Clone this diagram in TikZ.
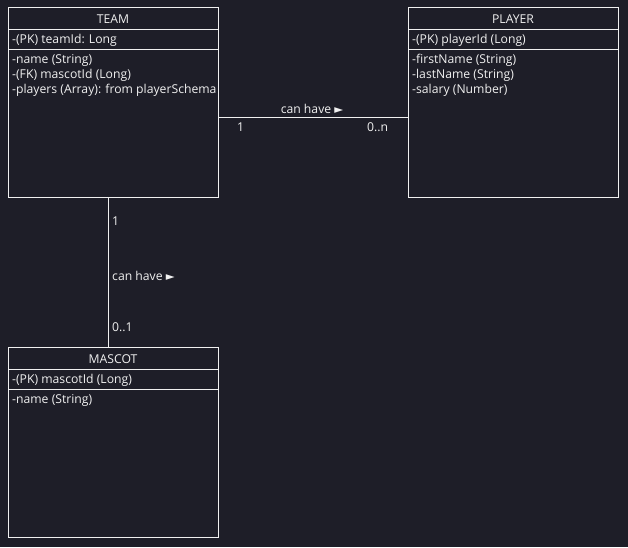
\documentclass[tikz,border=0pt]{standalone}
\usepackage{fontspec}
\setmainfont{Open Sans}
\newfontfamily\symfont{DejaVu Sans}
\definecolor{bg}{RGB}{30,30,40}
\definecolor{fg}{RGB}{240,240,240}
\newcommand{\tri}{{\symfont\fontsize{11.5}{10}\selectfont ►}}
\begin{document}
\begin{tikzpicture}[x=1pt,y=-1pt,
  every node/.style={text=fg,font=\fontsize{12.2}{15}\selectfont,inner sep=0pt},
  box/.style={draw=fg,line width=1pt,fill=bg},
  sep/.style={draw=fg,line width=1pt},
  conn/.style={draw=fg,line width=1pt},
  attr/.style={anchor=north west,align=left},
  lbl/.style={anchor=base west}]
\fill[bg] (0,0) rectangle (628,547);
\useasboundingbox (0,0) rectangle (628,547);
% TEAM
\draw[box] (8,7) rectangle (218,197);
\node[minimum width=210pt,minimum height=190pt,anchor=north west] (team) at (8,7) {};
\draw[sep] (8,29) -- (218,29);
\draw[sep] (8,49) -- (218,49);
\node (teamh) at (113,19.5) {TEAM};
\node[attr] (teampk) at (12,34) {-(PK) teamId: Long};
\node[attr] (teama) at (12,54) {-name (String)\\-(FK) mascotId (Long)\\-players (Array): from playerSchema};
% PLAYER
\draw[box] (408,7) rectangle (618,197);
\node[minimum width=210pt,minimum height=190pt,anchor=north west] (player) at (408,7) {};
\draw[sep] (408,29) -- (618,29);
\draw[sep] (408,49) -- (618,49);
\node (playerh) at (513,19.5) {PLAYER};
\node[attr] (playerpk) at (412,34) {-(PK) playerId (Long)};
\node[attr] (playera) at (412,54) {-firstName (String)\\-lastName (String)\\-salary (Number)};
% MASCOT
\draw[box] (8,347) rectangle (218,537);
\node[minimum width=210pt,minimum height=190pt,anchor=north west] (mascot) at (8,347) {};
\draw[sep] (8,369) -- (218,369);
\draw[sep] (8,389) -- (218,389);
\node (mascoth) at (113,359.5) {MASCOT};
\node[attr] (mascotpk) at (12,374) {-(PK) mascotId (Long)};
\node[attr] (mascota) at (12,394) {-name (String)};
% connectors
\coordinate (t1) at (218,117);
\coordinate (p1) at (408,117);
\draw[conn] (t1) -- (p1);
\coordinate (t2) at (108,197);
\coordinate (m2) at (108,347);
\draw[conn] (t2) -- (m2);
\node (l1) at (312,109) {can have \tri};
\node[lbl] (m1a) at (237,131) {1};
\node[lbl] (m1b) at (367,131) {0..n};
\node[lbl] (m2a) at (112,225) {1};
\node[lbl] (l2) at (112,280) {can have \tri};
\node[lbl] (m2b) at (112,331) {0..1};
\end{tikzpicture}
\end{document}
